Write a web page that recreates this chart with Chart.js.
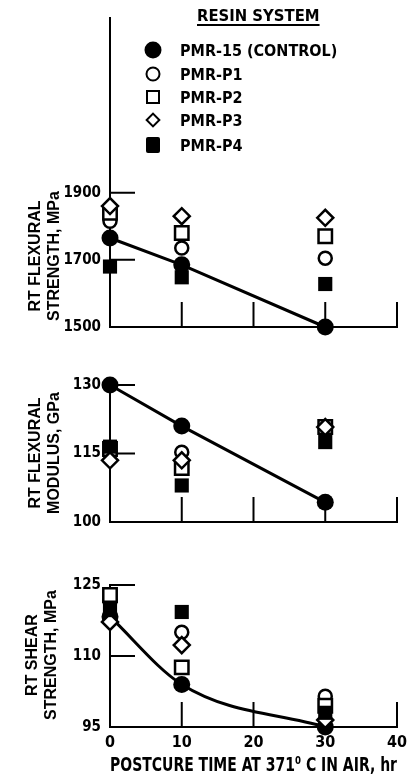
<!DOCTYPE html>
<html>
<head>
<meta charset="utf-8">
<script src="https://cdn.jsdelivr.net/npm/chart.js@4.4.1/dist/chart.umd.min.js"></script>
<style>
  body { margin: 0; width: 414px; height: 779px; background: #fff; position: relative; overflow: hidden;
         font-family: "Liberation Sans Narrow", "DejaVu Sans Condensed", sans-serif; color: #000; }
  .panel { position: absolute; left: 0; width: 414px; }
  .ytitle { position: absolute; white-space: nowrap; font: bold 16px "Liberation Sans", sans-serif;
            line-height: 19px; text-align: center; transform: translate(-50%, -50%) rotate(-90deg); }
  #legend { position: absolute; left: 0; top: 0; }
  #legend .head { position: absolute; left: 197px; top: 6px; font-weight: bold; font-size: 16.5px;
                  text-decoration: underline; text-underline-offset: 3px; text-decoration-thickness: 2px; white-space: nowrap; }
  #legend .item { position: absolute; left: 180px; font-weight: bold; font-size: 16px; white-space: nowrap;
                  transform: translateY(-50%); }
  #legend .mk { position: absolute; box-sizing: border-box; transform: translate(-50%, -50%); }
</style>
</head>
<body>
<canvas id="strengthChart" class="panel" style="top:0" width="414" height="345"></canvas>
<canvas id="modulusChart" class="panel" style="top:360px" width="414" height="180"></canvas>
<canvas id="shearChart" class="panel" style="top:560px" width="414" height="219"></canvas>

<div class="ytitle" style="left:44px; top:256px">RT FLEXURAL<br>STRENGTH, MPa</div>
<div class="ytitle" style="left:44px; top:453px">RT FLEXURAL<br>MODULUS, GPa</div>
<div class="ytitle" style="left:41px; top:655px">RT SHEAR<br>STRENGTH, MPa</div>

<div id="legend"></div>

<script>
const postcureHours = [0, 10, 30];
const hourTicks = [0, 10, 20, 30, 40];
const resinNames = ["PMR-15 (CONTROL)", "PMR-P1", "PMR-P2", "PMR-P3", "PMR-P4"];

// RT flexural strength, MPa
const strengthTicks = [1500, 1700, 1900];
const strengthPMR15 = [1765, 1685, 1500];
const strengthP1 = [1815, 1735, 1705];
const strengthP2 = [1840, 1780, 1770];
const strengthP3 = [1860, 1830, 1825];
const strengthP4 = [1680, 1648, 1628];

// RT flexural modulus, GPa
const modulusTicks = [100, 115, 130];
const modulusPMR15 = [130, 121, 104.3];
const modulusP1 = [115, 115.3, 120.8];
const modulusP2 = [116, 111.8, 120.8];
const modulusP3 = [113.5, 113.5, 120.8];
const modulusP4 = [116.5, 108, 117.5];

// RT shear strength, MPa
const shearTicks = [95, 110, 125];
const shearPMR15 = [118.3, 104, 95];
const shearP1 = [121.5, 115, 101.5];
const shearP2 = [122.9, 107.6, 99.5];
const shearP3 = [117.2, 112.3, 96.5];
const shearP4 = [119.7, 119.3, 98];

const markers = [
  { pointStyle: "circle", radius: 8.5, fill: "#000", border: 0 },
  { pointStyle: "circle", radius: 6.5, fill: "#fff", border: 2.5 },
  { pointStyle: "rect", radius: 9.5, fill: "#fff", border: 2.5 },
  { pointStyle: "rectRot", radius: 8, fill: "#fff", border: 2.5 },
  { pointStyle: "rect", radius: 10, fill: "#000", border: 0 }
];

const tickFont = { family: "'Liberation Sans Narrow', 'DejaVu Sans Condensed', sans-serif", weight: "bold", size: 15 };

// tick marks point into the plot, like the original figure
const inwardTicks = {
  id: "inwardTicks",
  beforeDatasetsDraw(chart) {
    const { ctx, chartArea, scales } = chart;
    ctx.save();
    ctx.strokeStyle = "#000";
    ctx.lineWidth = 2;
    ctx.beginPath();
    scales.y.ticks.forEach(t => {
      if (t.value === scales.y.min) return;
      const py = scales.y.getPixelForValue(t.value);
      ctx.moveTo(chartArea.left, py);
      ctx.lineTo(chartArea.left + 25, py);
    });
    scales.x.ticks.forEach(t => {
      if (t.value === scales.x.min) return;
      const px = scales.x.getPixelForValue(t.value);
      ctx.moveTo(px, chartArea.bottom);
      ctx.lineTo(px, chartArea.bottom - 25);
    });
    ctx.stroke();
    ctx.restore();
  }
};

function makeDatasets(series, curved) {
  return series.map((values, i) => ({
    label: resinNames[i],
    data: values.map((v, j) => ({ x: postcureHours[j], y: v })),
    showLine: i === 0,
    borderColor: "#000",
    borderWidth: 3,
    cubicInterpolationMode: curved ? "monotone" : "default",
    pointStyle: markers[i].pointStyle,
    pointRadius: markers[i].radius,
    pointBackgroundColor: markers[i].fill,
    pointBorderColor: "#000",
    pointBorderWidth: markers[i].border,
    clip: false,
    order: i === 0 ? 5 : 4 - i
  }));
}

function makePanel(id, series, yMin, yMax, yTicks, padding, showX, curved) {
  new Chart(document.getElementById(id), {
    type: "scatter",
    data: { datasets: makeDatasets(series, curved) },
    options: {
      responsive: false,
      animation: false,
      layout: { padding: padding },
      plugins: { legend: { display: false }, tooltip: { enabled: false } },
      scales: {
        x: {
          type: "linear", min: 0, max: 40,
          afterBuildTicks: s => { s.ticks = hourTicks.map(v => ({ value: v })); },
          afterFit: s => { s.height = showX ? 52 : 0; },
          grid: { display: false, drawTicks: false },
          border: { display: true, color: "#000", width: 2 },
          ticks: { display: showX, padding: 6, color: "#000", font: { ...tickFont, size: 16 },
                   callback: v => String(v) },
          title: {
            display: showX, text: "POSTCURE TIME AT 371\u2070 C IN AIR, hr", color: "#000",
            font: { ...tickFont, size: 20 }, padding: { top: 0, bottom: 1 }
          }
        },
        y: {
          min: yMin, max: yMax,
          afterBuildTicks: s => { s.ticks = yTicks.map(v => ({ value: v })); },
          afterFit: s => { s.width = 110; },
          grid: { display: false, drawTicks: false },
          border: { display: true, color: "#000", width: 2 },
          ticks: { padding: 9, color: "#000", font: tickFont, callback: v => String(v) }
        }
      }
    },
    plugins: [inwardTicks]
  });
}

makePanel("strengthChart", [strengthPMR15, strengthP1, strengthP2, strengthP3, strengthP4],
  1500, 2420, strengthTicks, { left: 0, right: 17, top: 5, bottom: 11 }, false, false);
makePanel("modulusChart", [modulusPMR15, modulusP1, modulusP2, modulusP3, modulusP4],
  100, 130, modulusTicks, { left: 0, right: 17, top: 25, bottom: 13 }, false, false);
makePanel("shearChart", [shearPMR15, shearP1, shearP2, shearP3, shearP4],
  95, 125, shearTicks, { left: 0, right: 17, top: 25, bottom: 0 }, true, true);

// legend block inside the top panel
const legendRows = [50, 74, 97, 120, 145];
const legendMarks = [
  "width:17px;height:17px;border-radius:50%;background:#000",
  "width:15px;height:15px;border-radius:50%;border:2.5px solid #000",
  "width:14px;height:14px;border:2.5px solid #000",
  "width:11px;height:11px;border:2.5px solid #000;transform:translate(-50%,-50%) rotate(45deg)",
  "width:14px;height:16px;border-radius:2px;background:#000"
];
const legend = document.getElementById("legend");
let html = '<div class="head">RESIN SYSTEM</div>';
resinNames.forEach((name, i) => {
  html += `<div class="mk" style="left:153px;top:${legendRows[i]}px;${legendMarks[i]}"></div>`;
  html += `<div class="item" style="top:${legendRows[i]}px">${name}</div>`;
});
legend.innerHTML = html;
</script>
</body>
</html>
